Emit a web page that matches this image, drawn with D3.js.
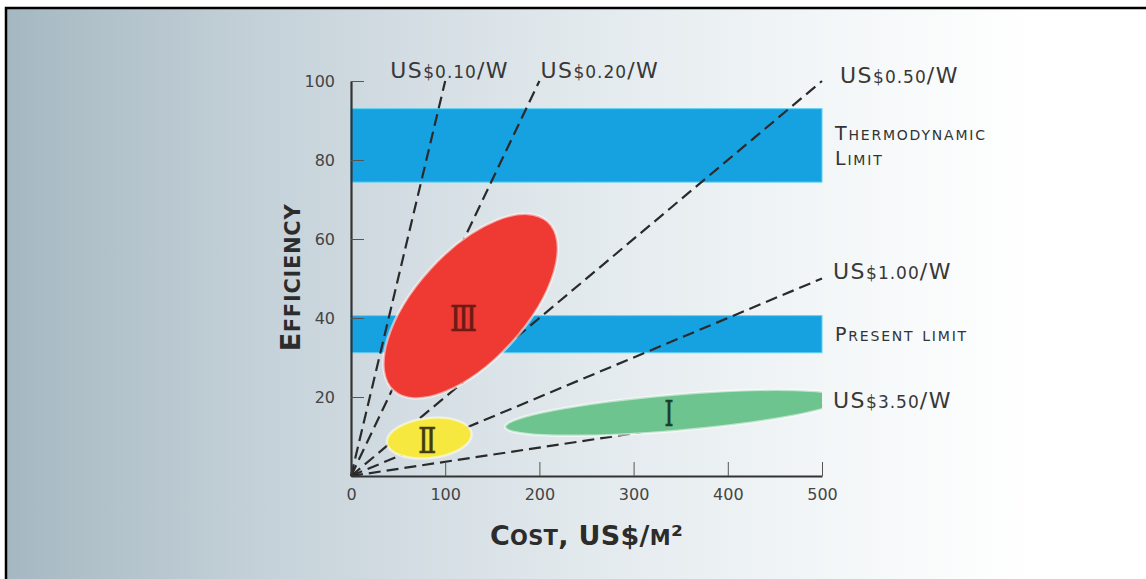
<!DOCTYPE html>
<html>
<head>
<meta charset="utf-8">
<script src="https://cdn.jsdelivr.net/npm/d3@7"></script>
<style>
  html, body { margin: 0; padding: 0; background: #fff; }
  svg { display: block; }
</style>
</head>
<body>
<svg id="chart"></svg>
<script>
// axis ticks: cost in US$/m2, efficiency in %
const xTicks = [0, 100, 200, 300, 400, 500];
const yTicks = [20, 40, 60, 80, 100];

// constant US$/W lines, each runs from the origin to an end point [cost, efficiency]
const lineNames = ["0.10", "0.20", "0.50", "1.00", "3.50"];
const lineEnds = [[100, 100], [200, 100], [500, 100], [500, 50], [500, 18]];

// horizontal limit bands, [low, high] efficiency
const bandNames = [["Thermodynamic", "Limit"], ["Present limit"]];
const bandRanges = [[74.4, 93], [31.2, 40.6]];

// technology regions: centre, tip of the long axis, short/long axis ratio
const regionNames = ["\u2162", "\u2161", "\u2160"];
const regionCentres = [[127, 43], [83, 9.6], [343, 16]];
const regionTips = [[209, 64.4], [128, 10.8], [163.5, 12.4]];
const regionRatios = [0.48, 0.47, 0.107];
const regionLabels = [[119.5, 40], [81, 9], [337.5, 16]];

// layout
const W = 1146, H = 579;
const margin = { top: 81, right: 324, bottom: 103, left: 351 };
const regionFill = ["#ee3a33", "#f6e83e", "#6ec48e"];
const regionInk = ["#6a1b14", "#3f3a10", "#163f27"];
const labelOffsets = [[-55, -3], [1, -3], [18, 2], [11, 0], [11, 3]];
const ink = "#333";

const svg = d3.select("#chart").attr("width", W).attr("height", H);

const x = d3.scaleLinear().domain([0, 500]).range([margin.left, W - margin.right]);
const y = d3.scaleLinear().domain([0, 100]).range([H - margin.bottom, margin.top]);

// background gradient and frame
const defs = svg.append("defs");
const grad = defs.append("linearGradient").attr("id", "bg").attr("x1", 0).attr("x2", 1).attr("y1", 0).attr("y2", 0);
[[0, "#a5b8c1"], [0.25, "#c8d4db"], [0.5, "#e2e9ed"], [0.75, "#f5f8f9"], [0.9, "#ffffff"]]
  .forEach(s => grad.append("stop").attr("offset", s[0]).attr("stop-color", s[1]));

svg.append("rect").attr("x", 6).attr("y", 8).attr("width", W - 6).attr("height", H - 8).attr("fill", "url(#bg)");
svg.append("path").attr("d", `M6,${H} V8 H${W}`).attr("fill", "none").attr("stroke", "#000").attr("stroke-width", 2.5);

defs.append("clipPath").attr("id", "plotClip")
  .append("rect")
  .attr("x", x(0)).attr("y", y(100) - 20)
  .attr("width", x(500) - x(0)).attr("height", y(0) - y(100) + 20);

// text with small caps: upper-case letters big, lower-case letters small
function smallCaps(sel, str, big, small) {
  let runs = [];
  for (const ch of str) {
    const isSmall = ch !== ch.toUpperCase();
    const size = isSmall ? small : big;
    if (runs.length && runs[runs.length - 1].size === size) runs[runs.length - 1].t += ch.toUpperCase();
    else runs.push({ t: ch.toUpperCase(), size: size });
  }
  runs.forEach(r => sel.append("tspan").attr("font-size", r.size).text(r.t));
}

// limit bands
const bands = svg.append("g");
bandRanges.forEach((b, i) => {
  bands.append("rect")
    .attr("x", x(0)).attr("y", y(b[1]))
    .attr("width", x(500) - x(0)).attr("height", y(b[0]) - y(b[1]))
    .attr("fill", "#16a1e1")
    .attr("stroke", "#62d2f3").attr("stroke-width", 1);
  const names = bandNames[i];
  const mid = (y(b[0]) + y(b[1])) / 2;
  const top = mid - (names.length - 1) * 12.5 + 7;
  names.forEach((n, j) => {
    const t = bands.append("text")
      .attr("x", x(500) + 13).attr("y", top + j * 25)
      .attr("font-family", "DejaVu Sans, sans-serif")
      .attr("fill", "#333").attr("letter-spacing", 1.8);
    smallCaps(t, n, 19, 14);
  });
});

// US$/W lines
const lines = svg.append("g");
lineEnds.forEach((e, i) => {
  lines.append("line")
    .attr("x1", x(0)).attr("y1", y(0))
    .attr("x2", x(e[0])).attr("y2", y(e[1]))
    .attr("stroke", "#2a2a2a").attr("stroke-width", 2.2)
    .attr("stroke-dasharray", "12,6");
  const t = lines.append("text")
    .attr("x", x(e[0]) + labelOffsets[i][0])
    .attr("y", y(e[1]) + labelOffsets[i][1])
    .attr("font-family", "DejaVu Sans, sans-serif")
    .attr("fill", "#383838");
  t.append("tspan").attr("font-size", 22).attr("letter-spacing", 1.5).text("US");
  t.append("tspan").attr("font-size", 17).attr("letter-spacing", 1).text("$" + lineNames[i]);
  t.append("tspan").attr("font-size", 22).attr("letter-spacing", 1.5).text("/W");
});

// technology regions
const regions = svg.append("g").attr("clip-path", "url(#plotClip)");
regionCentres.forEach((c, i) => {
  const cx = x(c[0]), cy = y(c[1]);
  const tx = x(regionTips[i][0]), ty = y(regionTips[i][1]);
  const a = Math.hypot(tx - cx, ty - cy);
  const ang = Math.atan2(ty - cy, tx - cx) * 180 / Math.PI;
  regions.append("ellipse")
    .attr("cx", cx).attr("cy", cy)
    .attr("rx", a).attr("ry", a * regionRatios[i])
    .attr("transform", `rotate(${ang},${cx},${cy})`)
    .attr("fill", regionFill[i])
    .attr("stroke", "#fff").attr("stroke-opacity", 0.55).attr("stroke-width", 2.5);
});
const widths = [27, 18, 9];
regionLabels.forEach((p, i) => {
  svg.append("text")
    .attr("x", x(p[0]) - widths[i] / 2).attr("y", y(p[1]) + 13)
    .attr("font-family", "DejaVu Serif, serif")
    .attr("font-size", 36)
    .attr("fill", regionInk[i])
    .attr("stroke", regionInk[i]).attr("stroke-width", 0.7)
    .attr("textLength", widths[i]).attr("lengthAdjust", "spacingAndGlyphs")
    .text(regionNames[i]);
});

// axes with inward ticks
const xAxis = svg.append("g")
  .attr("transform", `translate(0,${y(0)})`)
  .call(d3.axisBottom(x).tickValues(xTicks).tickSizeInner(-14).tickSizeOuter(0).tickPadding(13));
const yAxis = svg.append("g")
  .attr("transform", `translate(${x(0)},0)`)
  .call(d3.axisLeft(y).tickValues(yTicks).tickSizeInner(-13).tickSizeOuter(0).tickPadding(16));

[xAxis, yAxis].forEach(g => {
  g.select(".domain").attr("stroke", ink).attr("stroke-width", 2.2);
  g.selectAll(".tick line").attr("stroke", "#555").attr("stroke-width", 1);
  g.selectAll(".tick text")
    .attr("font-family", "DejaVu Sans, sans-serif")
    .attr("font-size", 16).attr("fill", "#444");
});

// axis titles
const yTitle = svg.append("text")
  .attr("transform", `translate(300,${(y(0) + y(100)) / 2 - 1}) rotate(-90)`)
  .attr("text-anchor", "middle")
  .attr("font-family", "DejaVu Sans, sans-serif")
  .attr("font-weight", "bold").attr("fill", "#2c2c2c")
  .attr("letter-spacing", 0.7);
smallCaps(yTitle, "Efficiency", 27, 21);

const xTitle = svg.append("text")
  .attr("x", (x(0) + x(500)) / 2).attr("y", 545)
  .attr("text-anchor", "middle")
  .attr("font-family", "DejaVu Sans, sans-serif")
  .attr("font-weight", "bold").attr("fill", "#2c2c2c")
  .attr("letter-spacing", 0.3);
smallCaps(xTitle, "Cost, US$/m\u00b2", 27, 21);
</script>
</body>
</html>
